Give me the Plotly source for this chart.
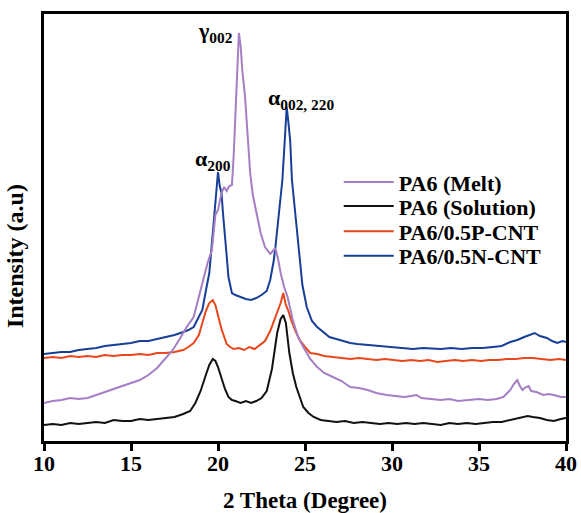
import plotly.graph_objects as go

# ---- data (2-theta in degrees, intensity in arbitrary units) ----
x_solution = [10.0, 10.5, 11.0, 11.5, 12.0, 12.5, 13.0, 13.5, 14.0, 14.5, 15.0, 15.5, 16.0, 16.5, 17.0, 17.5,
              18.0, 18.4, 18.7, 19.0, 19.3, 19.5, 19.7, 19.85, 20.0, 20.2, 20.4, 20.6, 20.8, 21.0, 21.3, 21.6,
              21.9, 22.2, 22.5, 22.8, 23.1, 23.4, 23.6, 23.75, 23.9, 24.1, 24.3, 24.5, 24.7, 24.9, 25.2, 25.5,
              25.9, 26.3, 26.8, 27.3, 27.8, 28.3, 28.8, 29.3, 29.8, 30.3, 30.8, 31.3, 31.8, 32.3, 32.8, 33.3,
              33.8, 34.3, 34.8, 35.3, 35.8, 36.3, 36.8, 37.3, 37.8, 38.1, 38.5, 38.9, 39.3, 39.7, 40.0]
y_solution = [16, 17, 16, 18, 17, 18, 19, 18, 21, 20, 20, 22, 21, 22, 23, 24,
              27, 30, 38, 50, 66, 76, 82, 80, 74, 62, 52, 44, 41, 40, 38, 40,
              38, 40, 43, 50, 72, 108, 122, 126, 118, 88, 68, 54, 44, 34, 28, 24,
              21, 20, 19, 20, 18, 19, 18, 17, 18, 17, 18, 17, 18, 17, 16, 18,
              17, 18, 17, 18, 19, 19, 21, 23, 25, 24, 23, 21, 20, 22, 23]

x_pcnt = [10.0, 10.5, 11.0, 11.5, 12.0, 12.5, 13.0, 13.5, 14.0, 14.5, 15.0, 15.5, 16.0, 16.5, 17.0, 17.5,
          18.0, 18.3, 18.6, 18.9, 19.1, 19.3, 19.5, 19.7, 19.85, 20.0, 20.2, 20.5, 20.7, 20.9, 21.2, 21.5,
          21.8, 22.1, 22.4, 22.7, 23.0, 23.2, 23.4, 23.6, 23.75, 23.9, 24.05, 24.2, 24.45, 24.7, 25.0, 25.3,
          25.7, 26.1, 26.6, 27.1, 27.6, 28.1, 28.6, 29.1, 29.6, 30.1, 30.6, 31.1, 31.6, 32.1, 32.6, 33.1,
          33.6, 34.1, 34.6, 35.1, 35.6, 36.1, 36.6, 37.1, 37.6, 38.1, 38.6, 39.1, 39.6, 40.0]
y_pcnt = [83, 84, 83, 85, 84, 85, 84, 86, 85, 86, 86, 87, 86, 88, 88, 89,
          91, 94, 98, 106, 118, 130, 138, 141, 136, 126, 112, 97, 94, 92, 93, 91,
          94, 92, 96, 100, 110, 120, 130, 138, 148, 136, 130, 121, 110, 101, 94, 88,
          87, 85, 84, 83, 82, 83, 82, 81, 82, 81, 80, 81, 80, 81, 79, 80,
          81, 80, 81, 80, 81, 81, 82, 82, 83, 83, 82, 81, 82, 81]

x_ncnt = [10.0, 10.5, 11.0, 11.5, 12.0, 12.5, 13.0, 13.5, 14.0, 14.5, 15.0, 15.5, 16.0, 16.5, 17.0, 17.5,
          18.0, 18.3, 18.6, 18.9, 19.1, 19.3, 19.5, 19.7, 19.85, 20.0, 20.1, 20.2, 20.3, 20.4, 20.5, 20.6,
          20.7, 20.8, 21.0, 21.3, 21.6, 21.9, 22.2, 22.5, 22.8, 23.0, 23.2, 23.3, 23.5, 23.7, 23.8, 23.9,
          23.95, 24.05, 24.15, 24.25, 24.4, 24.55, 24.7, 24.85, 25.1, 25.4, 25.7, 26.0, 26.4, 26.8, 27.2, 27.6,
          28.0, 28.6, 29.2, 29.8, 30.5, 31.2, 31.8, 32.4, 32.8, 33.4, 34.0, 34.6, 35.2, 35.8, 36.3, 36.8,
          37.2, 37.6, 37.9, 38.2, 38.5, 38.9, 39.2, 39.5, 39.8, 40.0]
y_ncnt = [87, 88, 89, 89, 91, 92, 93, 95, 96, 97, 98, 100, 100, 102, 104, 106,
          109, 111, 114, 124, 131, 150, 168, 208, 240, 269, 255, 248, 225, 208, 185, 164,
          154, 148, 146, 144, 142, 141, 143, 146, 150, 161, 180, 194, 228, 261, 290, 320,
          334, 318, 300, 261, 236, 208, 180, 156, 134, 120, 114, 110, 104, 102, 100, 98,
          97, 96, 95, 94, 93, 92, 93, 92, 92, 93, 92, 93, 93, 94, 95, 99,
          101, 104, 106, 108, 105, 103, 100, 98, 100, 99]

x_melt = [10.0, 10.5, 11.0, 11.5, 12.0, 12.5, 13.0, 13.5, 14.0, 14.5, 15.0, 15.5, 16.0, 16.5, 17.0, 17.4,
          17.8, 18.2, 18.6, 19.1, 19.4, 19.65, 19.85, 20.0, 20.2, 20.35, 20.5, 20.65, 20.8, 20.9, 21.0, 21.1,
          21.2, 21.3, 21.4, 21.55, 21.7, 21.85, 22.0, 22.2, 22.45, 22.7, 22.85, 23.0, 23.15, 23.3, 23.45, 23.6,
          23.8, 24.0, 24.3, 24.6, 24.9, 25.3, 25.7, 26.1, 26.6, 27.1, 27.6, 28.1, 28.6, 29.1, 29.7, 30.2,
          30.7, 31.1, 31.4, 31.7, 32.2, 32.8, 33.3, 33.8, 34.4, 35.0, 35.5, 36.0, 36.4, 36.8, 37.0, 37.2,
          37.35, 37.5, 37.7, 37.85, 38.0, 38.3, 38.7, 39.0, 39.3, 39.7, 40.0]
y_melt = [38, 40, 41, 43, 42, 43, 46, 49, 52, 55, 58, 61, 66, 73, 83, 91,
          102, 114, 124, 158, 178, 191, 226, 231, 248, 254, 250, 255, 256, 285, 330, 365,
          408, 395, 370, 345, 305, 268, 246, 228, 208, 194, 190, 187, 190, 193, 182, 168,
          154, 144, 121, 104, 94, 82, 74, 68, 64, 60, 54, 53, 51, 48, 46, 45,
          44, 45, 46, 43, 42, 41, 42, 40, 41, 42, 41, 42, 44, 51, 57, 61,
          55, 51, 54, 55, 50, 49, 46, 47, 46, 44, 44]

series_names = ["PA6 (Melt)", "PA6 (Solution)", "PA6/0.5P-CNT", "PA6/0.5N-CNT"]
series_colors = ["#a57fc4", "#111111", "#e8471c", "#173f98"]

peak_labels = ["γ<sub>002</sub>", "α<sub>200</sub>", "α<sub>002, 220</sub>"]
peak_x = [19.83, 19.74, 24.77]
peak_y = [409, 281, 342]

x_ticks = [10, 15, 20, 25, 30, 35, 40]

FONT = "Liberation Serif, Times New Roman, serif"

fig = go.Figure()
data = {
    "PA6 (Melt)": (x_melt, y_melt),
    "PA6 (Solution)": (x_solution, y_solution),
    "PA6/0.5P-CNT": (x_pcnt, y_pcnt),
    "PA6/0.5N-CNT": (x_ncnt, y_ncnt),
}
legend_ids = ["legend", "legend2", "legend3", "legend4"]
draw_order = [3, 2, 1, 0]
for i in draw_order:
    name = series_names[i]
    xs, ys = data[name]
    fig.add_trace(go.Scatter(x=xs, y=ys, mode="lines", name=name,
                             line=dict(color=series_colors[i], width=2),
                             legend=legend_ids[i]))

for txt, px_, py_ in zip(peak_labels, peak_x, peak_y):
    fig.add_annotation(x=px_, y=py_, text=txt, showarrow=False,
                       font=dict(family=FONT, size=22, color="black", weight="bold"),
                       xanchor="center", yanchor="middle")

fig.add_annotation(xref="paper", yref="paper", x=-0.0556, y=0.433, text="Intensity (a.u)",
                   textangle=-90, showarrow=False,
                   font=dict(family=FONT, size=24, color="black", weight="bold"),
                   xanchor="center", yanchor="middle")

legend_y = [0.645, 0.598, 0.549, 0.501]
leg_common = dict(x=0.583, xref="container", yref="container", xanchor="left", yanchor="middle",
                  bgcolor="rgba(0,0,0,0)",
                  font=dict(family=FONT, size=22, color="black", weight="bold"),
                  itemwidth=50)
layout_legends = {}
for lid, ly in zip(legend_ids, legend_y):
    layout_legends[lid] = dict(y=ly, **leg_common)

fig.update_layout(
    width=581, height=513,
    margin=dict(l=44, r=15, t=14, b=72, autoexpand=False),
    paper_bgcolor="white", plot_bgcolor="white",
    showlegend=True,
    **layout_legends,
    xaxis=dict(range=[10, 40], tickvals=x_ticks, ticks="outside", ticklen=7, tickwidth=2.5,
               tickcolor="black", showline=True, linecolor="black", linewidth=3, mirror=True,
               showgrid=False, zeroline=False, automargin=False, ticklabelstandoff=-6,
               tickfont=dict(family=FONT, size=22, color="black", weight="bold"),
               title=dict(text="2 Theta (Degree)", standoff=17,
                          font=dict(family=FONT, size=23, color="black", weight="bold"))),
    yaxis=dict(range=[0, 427], showticklabels=False, ticks="", showline=True, linecolor="black",
               linewidth=3, mirror=True, showgrid=False, zeroline=False, automargin=False),
)

fig.write_html("out.html", config={"displayModeBar": False},
               post_script="document.body.style.margin='0';document.body.style.overflow='hidden';"
                           "document.documentElement.style.overflow='hidden';")
